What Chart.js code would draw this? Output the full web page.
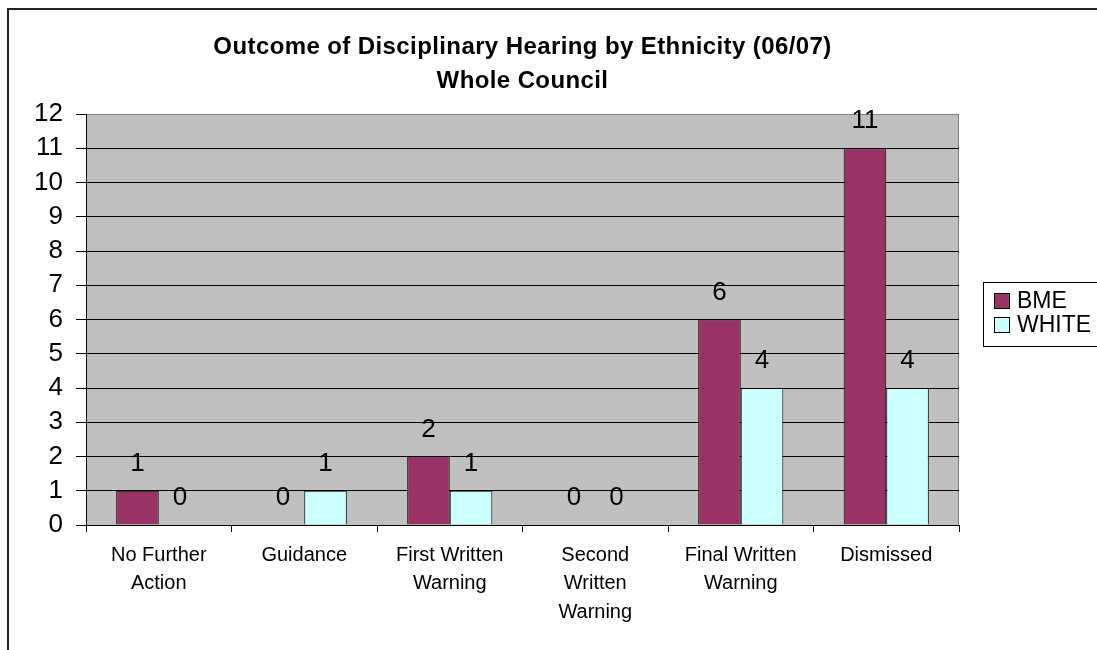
<!DOCTYPE html>
<html>
<head>
<meta charset="utf-8">
<script src="https://cdn.jsdelivr.net/npm/chart.js@4/dist/chart.umd.min.js"></script>
<style>
  html, body { margin: 0; padding: 0; background: #fff; overflow: hidden; }
  #frame { position: absolute; left: 7px; top: 8px; width: 1120px; height: 680px; border: 2px solid #222; }
  #chartBox { position: absolute; left: 0; top: 0; width: 1100px; height: 650px; }
</style>
</head>
<body>
<div id="frame">
  <div id="chartBox"><canvas id="hearingChart"></canvas></div>
</div>
<script>
// Data
const categories = [
  ['No Further', 'Action'],
  'Guidance',
  ['First Written', 'Warning'],
  ['Second', 'Written', 'Warning'],
  ['Final Written', 'Warning'],
  'Dismissed'
];
const bmeValues = [1, 0, 2, 0, 6, 11];
const whiteValues = [0, 1, 1, 0, 4, 4];
const seriesNames = ['BME', 'WHITE'];
const titleLines = ['Outcome of Disciplinary Hearing by Ethnicity (06/07)', 'Whole Council'];
const yMin = 0;
const yMax = 12;

const FONT = '"Liberation Sans", Arial, sans-serif';
const barColors = ['#993366', '#CCFFFF'];

// gray plot background + gray top/right border
const plotBackground = {
  id: 'plotBackground',
  beforeDraw(chart) {
    const { ctx, chartArea: a } = chart;
    ctx.save();
    ctx.fillStyle = '#C0C0C0';
    ctx.fillRect(a.left, a.top, a.right - a.left, a.bottom - a.top);
    ctx.strokeStyle = '#808080';
    ctx.lineWidth = 1;
    ctx.beginPath();
    ctx.moveTo(a.left, a.top + 0.5);
    ctx.lineTo(a.right - 0.5, a.top + 0.5);
    ctx.lineTo(a.right - 0.5, a.bottom);
    ctx.stroke();
    ctx.restore();
  }
};

// value labels above each bar
const valueLabels = {
  id: 'valueLabels',
  afterDatasetsDraw(chart) {
    const ctx = chart.ctx;
    ctx.save();
    ctx.font = '26px ' + FONT;
    ctx.fillStyle = '#000';
    ctx.textAlign = 'center';
    ctx.textBaseline = 'middle';
    chart.data.datasets.forEach((ds, i) => {
      chart.getDatasetMeta(i).data.forEach((bar, j) => {
        ctx.fillText(String(ds.data[j]), bar.x, bar.y - 27);
      });
    });
    ctx.restore();
  }
};

// two-line title centred over the plot, and boxed legend on the right
const titleAndLegend = {
  id: 'titleAndLegend',
  afterDraw(chart) {
    const { ctx, chartArea: a } = chart;
    ctx.save();
    ctx.fillStyle = '#000';
    ctx.textAlign = 'center';
    ctx.textBaseline = 'middle';
    ctx.font = 'bold 24px ' + FONT;
    ctx.letterSpacing = '0.4px';
    const cx = (a.left + a.right) / 2;
    titleLines.forEach((t, i) => ctx.fillText(t, cx, 37 + i * 34));
    ctx.letterSpacing = '0px';

    // legend
    ctx.fillStyle = '#fff';
    ctx.fillRect(974, 272, 140, 64);
    ctx.strokeStyle = '#000';
    ctx.lineWidth = 1;
    ctx.strokeRect(974.5, 272.5, 140, 64);
    ctx.font = '23px ' + FONT;
    ctx.textAlign = 'left';
    chart.data.datasets.forEach((ds, i) => {
      const y = 283 + i * 24;
      ctx.fillStyle = ds.backgroundColor;
      ctx.fillRect(985, y, 16, 16);
      ctx.strokeStyle = '#000';
      ctx.strokeRect(985.5, y + 0.5, 15, 15);
      ctx.fillStyle = '#000';
      ctx.fillText(ds.label, 1008, y + 9);
    });
    ctx.restore();
  }
};

new Chart(document.getElementById('hearingChart'), {
  type: 'bar',
  data: {
    labels: categories,
    datasets: [
      { label: seriesNames[0], data: bmeValues, backgroundColor: barColors[0], borderColor: '#000', borderWidth: 1 },
      { label: seriesNames[1], data: whiteValues, backgroundColor: barColors[1], borderColor: '#000', borderWidth: 1 }
    ]
  },
  options: {
    responsive: true,
    maintainAspectRatio: false,
    animation: false,
    categoryPercentage: 0.585,
    barPercentage: 1,
    layout: { padding: { left: 0, top: 104, right: 150, bottom: 0 } },
    plugins: {
      legend: { display: false },
      title: { display: false },
      tooltip: { enabled: false }
    },
    scales: {
      x: {
        afterFit(scale) { scale.height = 135; },
        grid: { display: true, drawOnChartArea: false, drawTicks: true, tickLength: 7, color: '#000', offset: true },
        border: { color: '#000', width: 1 },
        ticks: {
          color: '#000', font: { family: FONT, size: 20, lineHeight: 1.43 },
          maxRotation: 0, autoSkip: false, padding: 9
        }
      },
      y: {
        min: yMin,
        max: yMax,
        afterFit(scale) { scale.width = 77; },
        grid: {
          color: ctx => (ctx.tick && ctx.tick.value === yMax ? '#808080' : '#000'),
          tickColor: '#000',
          tickLength: 10,
          lineWidth: 1
        },
        border: { color: '#000', width: 1 },
        ticks: { stepSize: 1, color: '#000', font: { family: FONT, size: 26 }, padding: 13 }
      }
    }
  },
  plugins: [plotBackground, valueLabels, titleAndLegend]
});
</script>
</body>
</html>
